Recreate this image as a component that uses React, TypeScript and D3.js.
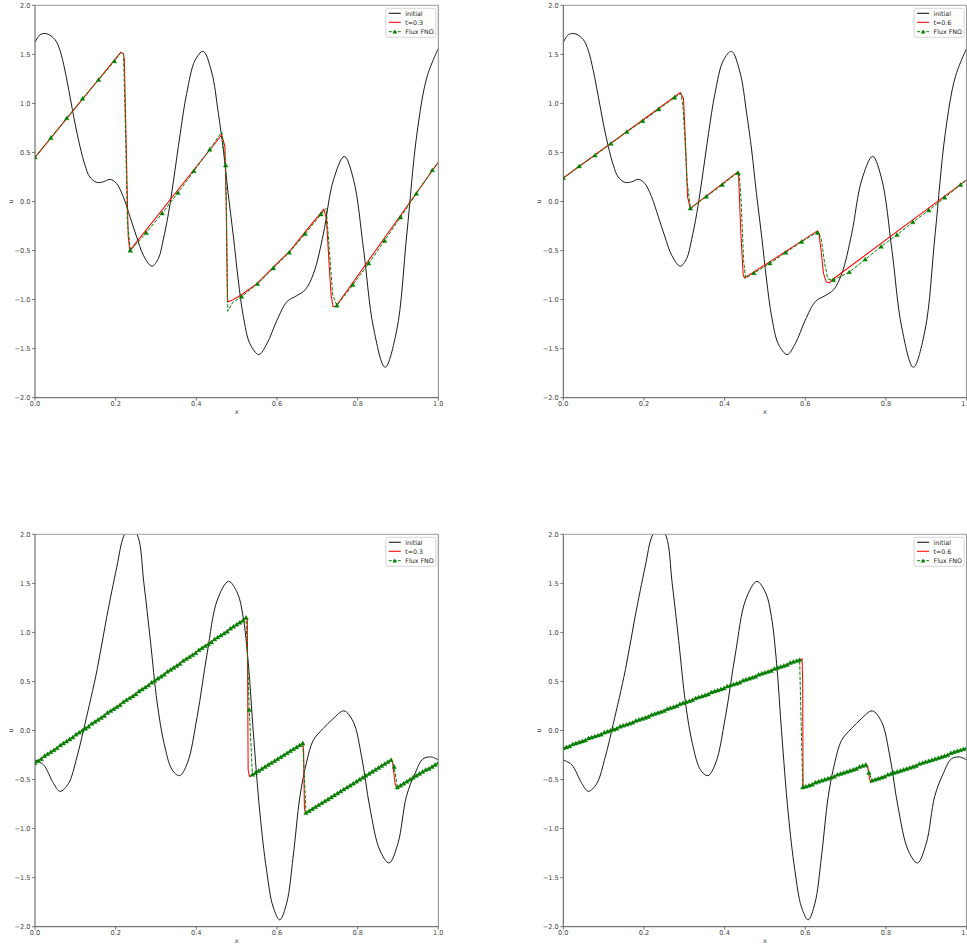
import React from "react";
import * as d3 from "d3";

type P = [number, number];

const X_TICKS = [0, 0.2, 0.4, 0.6, 0.8, 1.0];
const U_TICKS = [-2, -1.5, -1, -0.5, 0, 0.5, 1, 1.5, 2];
const LEGEND_INITIAL = "initial";
const LEGEND_FNO = "Flux FNO";
const TIME_LABELS = ["t=0.3", "t=0.6"];
const TOP_MARK_STEP = 0.0394;
const BOTTOM_MARK_STEP = 1 / 128;

const initialTop: P[] = [
  [0, 1.62], [0.0124, 1.7], [0.029, 1.71], [0.0496, 1.65], [0.062, 1.54], [0.074, 1.34],
  [0.0868, 1.07], [0.099, 0.8], [0.1116, 0.56], [0.124, 0.37], [0.136, 0.25], [0.153, 0.195],
  [0.169, 0.2], [0.186, 0.226], [0.2017, 0.186], [0.2187, 0.05], [0.2356, -0.155], [0.252, -0.36],
  [0.269, -0.55], [0.29, -0.66], [0.306, -0.58], [0.318, -0.39], [0.331, -0.12], [0.343, 0.2],
  [0.36, 0.69], [0.376, 1.1], [0.397, 1.44], [0.417, 1.53], [0.438, 1.32], [0.4546, 0.9],
  [0.467, 0.525], [0.479, 0.08], [0.492, -0.36], [0.504, -0.8], [0.5165, -1.17], [0.533, -1.45],
  [0.555, -1.56], [0.575, -1.45], [0.6, -1.21], [0.625, -1.02], [0.649, -0.96], [0.67, -0.9],
  [0.691, -0.73], [0.715, -0.33], [0.74, 0.22], [0.767, 0.46], [0.79, 0.22], [0.815, -0.5],
  [0.839, -1.28], [0.868, -1.69], [0.897, -1.31], [0.922, -0.33], [0.947, 0.69], [0.972, 1.27],
  [1.0, 1.56],
];

const initialBottom: P[] = [
  [0, -0.3], [0.021, -0.35], [0.046, -0.54], [0.062, -0.62], [0.083, -0.54], [0.104, -0.27],
  [0.124, 0.07], [0.154, 0.62], [0.178, 1.16], [0.203, 1.67], [0.22, 1.98], [0.237, 2.08],
  [0.255, 1.98], [0.27, 1.5], [0.286, 0.92], [0.303, 0.28], [0.32, -0.13], [0.34, -0.4],
  [0.3585, -0.46], [0.378, -0.33], [0.402, 0.14], [0.427, 0.79], [0.452, 1.33], [0.48, 1.52],
  [0.502, 1.4], [0.516, 1.16], [0.529, 0.68], [0.541, 0.0], [0.5576, -0.84], [0.574, -1.42],
  [0.5906, -1.8], [0.607, -1.93], [0.624, -1.76], [0.64, -1.29], [0.657, -0.67], [0.673, -0.33],
  [0.69, -0.1], [0.7145, 0.02], [0.739, 0.12], [0.766, 0.2], [0.789, 0.09], [0.81, -0.27],
  [0.83, -0.78], [0.855, -1.22], [0.878, -1.35], [0.9, -1.15], [0.921, -0.67], [0.942, -0.44],
  [0.962, -0.29], [0.983, -0.27], [1.0, -0.3],
];

// reference solution, top-left (t=0.3)
const exactTL: P[] = [
  [0, 0.45], [0.2125, 1.52], [0.219, 1.51], [0.2215, 1.45], [0.226, 0.6], [0.231, -0.35],
  [0.235, -0.5], [0.463, 0.68], [0.471, 0.56], [0.474, 0.0], [0.477, -1.0], [0.479, -1.02],
  [0.487, -1.01], [0.512, -0.95], [0.55, -0.84], [0.591, -0.67], [0.633, -0.5], [0.674, -0.29],
  [0.716, -0.08], [0.7225, -0.17], [0.728, -0.55], [0.734, -0.95], [0.739, -1.07], [0.746, -1.07],
  [1.0, 0.4],
];

const fnoLineTL: P[] = [
  [0, 0.45], [0.0394, 0.65], [0.0788, 0.85], [0.1182, 1.05], [0.1576, 1.24], [0.197, 1.43],
  [0.2125, 1.52], [0.2195, 1.5], [0.224, 0.8], [0.229, -0.2], [0.2364, -0.5], [0.2758, -0.32],
  [0.3152, -0.12], [0.3546, 0.09], [0.394, 0.31], [0.4334, 0.53], [0.463, 0.71], [0.4728, 0.37],
  [0.476, -0.5], [0.478, -1.12], [0.49, -1.03], [0.5122, -0.97], [0.5516, -0.84], [0.591, -0.68],
  [0.6304, -0.52], [0.6698, -0.33], [0.7092, -0.13], [0.722, -0.07], [0.73, -0.5], [0.738, -0.95],
  [0.7486, -1.06], [0.788, -0.85], [0.8274, -0.63], [0.8668, -0.4], [0.9062, -0.16], [0.9456, 0.08],
  [0.985, 0.32], [1.0, 0.4],
];

const fnoMarksTL = [
  0.45, 0.65, 0.85, 1.05, 1.24, 1.43, -0.5, -0.32, -0.12, 0.09, 0.31, 0.53, 0.37,
  -0.97, -0.84, -0.68, -0.52, -0.33, -0.13, -1.06, -0.85, -0.63, -0.4, -0.16, 0.08, 0.32,
];

// reference solution, top-right (t=0.6)
const exactTR: P[] = [
  [0, 0.24], [0.29, 1.11], [0.298, 1.05], [0.303, 0.6], [0.308, 0.05], [0.3146, -0.07],
  [0.432, 0.3], [0.4346, 0.27], [0.44, -0.3], [0.446, -0.75], [0.4495, -0.78], [0.63, -0.3],
  [0.634, -0.33], [0.64, -0.53], [0.645, -0.73], [0.652, -0.82], [0.66, -0.83], [0.666, -0.8],
  [1.0, 0.22],
];

const fnoLineTR: P[] = [
  [0, 0.24], [0.0394, 0.36], [0.0788, 0.47], [0.1182, 0.59], [0.1576, 0.71], [0.197, 0.82],
  [0.2364, 0.94], [0.2758, 1.06], [0.292, 1.1], [0.297, 0.95], [0.302, 0.6], [0.307, 0.2],
  [0.3152, -0.07], [0.3546, 0.05], [0.394, 0.17], [0.4334, 0.3], [0.436, 0.29], [0.441, 0.0],
  [0.447, -0.6], [0.452, -0.78], [0.4728, -0.73], [0.5122, -0.63], [0.5516, -0.52], [0.591, -0.41],
  [0.6304, -0.31], [0.633, -0.31], [0.64, -0.39], [0.648, -0.63], [0.656, -0.79], [0.6698, -0.8],
  [0.7092, -0.72], [0.7486, -0.59], [0.788, -0.46], [0.8274, -0.34], [0.8668, -0.21], [0.9062, -0.09],
  [0.9456, 0.04], [0.985, 0.17], [1.0, 0.22],
];

const fnoMarksTR = [
  0.24, 0.36, 0.47, 0.59, 0.71, 0.82, 0.94, 1.06, -0.07, 0.05, 0.17, 0.29, -0.73,
  -0.63, -0.52, -0.41, -0.32, -0.8, -0.72, -0.59, -0.46, -0.34, -0.21, -0.09, 0.04, 0.17,
];

// reference solution, bottom-left (t=0.3)
const exactBL: P[] = [
  [0, -0.33], [0.5245, 1.15], [0.5265, 1.12], [0.5285, -0.4], [0.532, -0.47], [0.6635, -0.13],
  [0.666, -0.2], [0.668, -0.8], [0.671, -0.84], [0.8835, -0.3], [0.887, -0.33], [0.893, -0.55],
  [0.897, -0.58], [1.0, -0.33],
];

const fnoBL = [
  -0.33, -0.31, -0.29, -0.26, -0.24, -0.22, -0.2, -0.18, -0.15, -0.13,
  -0.11, -0.09, -0.07, -0.04, -0.02, 0.0, 0.02, 0.04, 0.07, 0.09,
  0.11, 0.13, 0.15, 0.18, 0.2, 0.22, 0.24, 0.26, 0.29, 0.31,
  0.33, 0.35, 0.37, 0.4, 0.42, 0.44, 0.46, 0.49, 0.51, 0.53,
  0.55, 0.57, 0.6, 0.62, 0.64, 0.66, 0.68, 0.71, 0.73, 0.75,
  0.77, 0.79, 0.82, 0.84, 0.86, 0.88, 0.9, 0.93, 0.95, 0.97,
  0.99, 1.01, 1.04, 1.06, 1.08, 1.1, 1.12, 1.15, 0.21, -0.45,
  -0.43, -0.41, -0.39, -0.37, -0.35, -0.33, -0.31, -0.29, -0.27, -0.25,
  -0.23, -0.21, -0.19, -0.17, -0.15, -0.13, -0.84, -0.82, -0.8, -0.78,
  -0.76, -0.74, -0.72, -0.7, -0.68, -0.66, -0.64, -0.62, -0.6, -0.58,
  -0.56, -0.54, -0.52, -0.5, -0.48, -0.46, -0.44, -0.42, -0.4, -0.38,
  -0.36, -0.34, -0.32, -0.3, -0.37, -0.58, -0.56, -0.54, -0.52, -0.5,
  -0.48, -0.46, -0.44, -0.42, -0.4, -0.39, -0.37, -0.35, -0.33,
];

// reference solution, bottom-right (t=0.6)
const exactBR: P[] = [
  [0, -0.18], [0.592, 0.73], [0.5935, 0.5], [0.5945, -0.55], [0.596, -0.58], [0.751, -0.35],
  [0.755, -0.37], [0.759, -0.48], [0.762, -0.53], [0.767, -0.51], [1.0, -0.18],
];

const fnoBR = [
  -0.18, -0.17, -0.16, -0.14, -0.13, -0.12, -0.11, -0.1, -0.08, -0.07,
  -0.06, -0.05, -0.04, -0.02, -0.01, 0.0, 0.01, 0.02, 0.04, 0.05,
  0.06, 0.07, 0.08, 0.1, 0.11, 0.12, 0.13, 0.14, 0.16, 0.17,
  0.18, 0.19, 0.2, 0.22, 0.23, 0.24, 0.25, 0.27, 0.28, 0.29,
  0.3, 0.31, 0.33, 0.34, 0.35, 0.36, 0.37, 0.39, 0.4, 0.41,
  0.42, 0.43, 0.45, 0.46, 0.47, 0.48, 0.49, 0.51, 0.52, 0.53,
  0.54, 0.55, 0.57, 0.58, 0.59, 0.6, 0.61, 0.63, 0.64, 0.65,
  0.66, 0.67, 0.69, 0.7, 0.71, 0.72, -0.58, -0.57, -0.56, -0.55,
  -0.53, -0.52, -0.51, -0.5, -0.49, -0.48, -0.47, -0.45, -0.44, -0.43,
  -0.42, -0.41, -0.4, -0.39, -0.37, -0.36, -0.35, -0.43, -0.51, -0.5,
  -0.49, -0.48, -0.47, -0.45, -0.44, -0.43, -0.42, -0.41, -0.4, -0.39,
  -0.38, -0.37, -0.36, -0.34, -0.33, -0.32, -0.31, -0.3, -0.29, -0.28,
  -0.27, -0.26, -0.25, -0.23, -0.22, -0.21, -0.2, -0.19, -0.18,
];

const FONT = "'DejaVu Sans', sans-serif";
const GREEN = "#008000";
const RED = "#ff0000";
const BLACK = "#1a1a1a";

const fmt = (v: number) => d3.format(".1f")(v).replace("-", "\u2212");

type PanelProps = {
  id: string;
  left: number;
  top: number;
  width: number;
  height: number;
  initial: P[];
  exact: P[];
  fnoLine: P[] | null;
  fnoMarks: number[];
  markStep: number;
  timeLabel: string;
};

function Panel(p: PanelProps) {
  const { id, left, top, width, height } = p;
  const right = left + width;
  const bottom = top + height;
  const x = d3.scaleLinear().domain([0, 1]).range([left, right]);
  const y = d3.scaleLinear().domain([-2, 2]).range([bottom, top]);

  const lin = d3.line<P>().x((d) => x(d[0])).y((d) => y(d[1]));
  const smooth = d3
    .line<P>()
    .x((d) => x(d[0]))
    .y((d) => y(d[1]))
    .curve(d3.curveCatmullRom.alpha(0.5));

  const marks: P[] = p.fnoMarks.map((v, i) => [i * p.markStep, v]);
  const fnoLine = p.fnoLine ?? marks;
  const tri = d3.symbol().type(d3.symbolTriangle).size(9)()!;

  const lgW = 50;
  const lgH = 29;
  const lgX = right - 52.5;
  const lgY = top + 3;
  const rows = [lgY + 5, lgY + 14, lgY + 23.4];

  return (
    <g>
      <defs>
        <clipPath id={`clip-${id}`}>
          <rect x={left} y={top} width={width} height={height} />
        </clipPath>
      </defs>
      <g clipPath={`url(#clip-${id})`} fill="none">
        <path d={smooth(p.initial)!} stroke={BLACK} strokeWidth={1} />
        <path d={lin(p.exact)!} stroke={RED} strokeWidth={1.05} />
        <path d={lin(fnoLine)!} stroke={GREEN} strokeWidth={1} strokeDasharray="3.5,1.6" />
        {marks.map((m, i) => (
          <path
            key={i}
            d={tri}
            transform={`translate(${x(m[0])},${y(m[1]) + 0.4})`}
            fill={GREEN}
            stroke={GREEN}
            strokeWidth={0.4}
          />
        ))}
      </g>
      <line x1={left} x2={right} y1={top} y2={top} stroke="#999" strokeWidth={1} />
      <line x1={right} x2={right} y1={top} y2={bottom} stroke="#888" strokeWidth={1} />
      <line x1={left} x2={left} y1={top} y2={bottom} stroke="#555" strokeWidth={1} />
      <line x1={left} x2={right} y1={bottom} y2={bottom} stroke="#555" strokeWidth={1} />
      {X_TICKS.map((t) => (
        <g key={`x${t}`}>
          <line x1={x(t)} x2={x(t)} y1={bottom} y2={bottom + 3} stroke="#555" strokeWidth={0.8} />
          <text
            x={x(t)}
            y={bottom + 8.5}
            fontSize={6.6}
            fontFamily={FONT}
            fill="#444"
            textAnchor="middle"
          >
            {fmt(t)}
          </text>
        </g>
      ))}
      {U_TICKS.map((t) => (
        <g key={`y${t}`}>
          <line x1={left - 3} x2={left} y1={y(t)} y2={y(t)} stroke="#555" strokeWidth={0.8} />
          <text
            x={left - 4.5}
            y={y(t) + 2.3}
            fontSize={6.6}
            fontFamily={FONT}
            fill="#444"
            textAnchor="end"
          >
            {fmt(t)}
          </text>
        </g>
      ))}
      <text
        x={(left + right) / 2}
        y={bottom + 16.5}
        fontSize={6.6}
        fontFamily={FONT}
        fill="#444"
        textAnchor="middle"
      >
        x
      </text>
      <text
        transform={`translate(${left - 22},${(top + bottom) / 2}) rotate(-90)`}
        fontSize={6.6}
        fontFamily={FONT}
        fill="#444"
        textAnchor="middle"
      >
        u
      </text>
      <rect
        x={lgX}
        y={lgY}
        width={lgW}
        height={lgH}
        rx={2}
        fill="#fff"
        fillOpacity={0.85}
        stroke="#cccccc"
        strokeWidth={0.8}
      />
      <line x1={lgX + 3} x2={lgX + 15} y1={rows[0]} y2={rows[0]} stroke={BLACK} strokeWidth={1.1} />
      <line x1={lgX + 3} x2={lgX + 15} y1={rows[1]} y2={rows[1]} stroke={RED} strokeWidth={1.05} />
      <line
        x1={lgX + 3}
        x2={lgX + 15}
        y1={rows[2]}
        y2={rows[2]}
        stroke={GREEN}
        strokeWidth={1}
        strokeDasharray="3,1.6"
      />
      <path d={tri} transform={`translate(${lgX + 9},${rows[2] + 0.4})`} fill={GREEN} />
      {[LEGEND_INITIAL, p.timeLabel, LEGEND_FNO].map((s, i) => (
        <text
          key={s}
          x={lgX + 19.5}
          y={rows[i] + 2.2}
          fontSize={6.3}
          fontFamily={FONT}
          fill="#222"
        >
          {s}
        </text>
      ))}
    </g>
  );
}

export default function App() {
  const pw = 403.3;
  const ph = 392.4;
  return (
    <svg
      width={967}
      height={948}
      style={{ position: "absolute", left: 0, top: 0, background: "#fff" }}
    >
      <rect x={0} y={0} width={967} height={948} fill="#fff" />
      <Panel
        id="tl"
        left={35}
        top={5.3}
        width={pw}
        height={ph}
        initial={initialTop}
        exact={exactTL}
        fnoLine={fnoLineTL}
        fnoMarks={fnoMarksTL}
        markStep={TOP_MARK_STEP}
        timeLabel={TIME_LABELS[0]}
      />
      <Panel
        id="tr"
        left={563.3}
        top={5.3}
        width={pw}
        height={ph}
        initial={initialTop}
        exact={exactTR}
        fnoLine={fnoLineTR}
        fnoMarks={fnoMarksTR}
        markStep={TOP_MARK_STEP}
        timeLabel={TIME_LABELS[1]}
      />
      <Panel
        id="bl"
        left={35}
        top={534.3}
        width={pw}
        height={ph}
        initial={initialBottom}
        exact={exactBL}
        fnoLine={null}
        fnoMarks={fnoBL}
        markStep={BOTTOM_MARK_STEP}
        timeLabel={TIME_LABELS[0]}
      />
      <Panel
        id="br"
        left={563.3}
        top={534.3}
        width={pw}
        height={ph}
        initial={initialBottom}
        exact={exactBR}
        fnoLine={null}
        fnoMarks={fnoBR}
        markStep={BOTTOM_MARK_STEP}
        timeLabel={TIME_LABELS[1]}
      />
    </svg>
  );
}
